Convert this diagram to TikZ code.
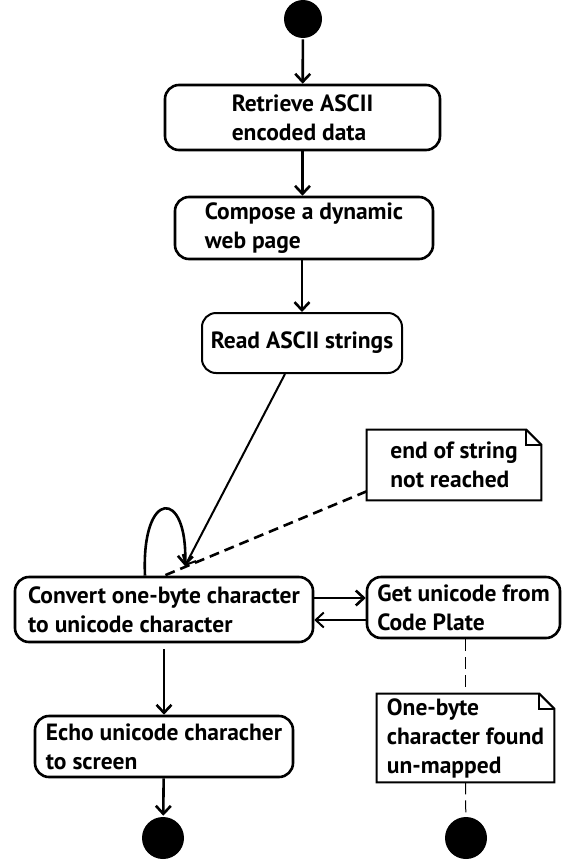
\documentclass[tikz,border=0pt]{standalone}
\usepackage{fontspec}
\setmainfont{PT Sans}
\usetikzlibrary{arrows.meta}
\begin{document}
\begin{tikzpicture}[x=1pt,y=-1pt,line width=2.6pt,
    font=\fontsize{23.5}{29}\selectfont\bfseries,
    >={Straight Barb[length=8pt,width=15pt]},
    action/.style={draw,rounded corners=14pt,align=left,inner sep=0pt},
    note/.style={align=left,inner sep=0pt},
    dot/.style={circle,fill,inner sep=0pt}]
    \useasboundingbox (0,0) rectangle (562,862);
    % states
    \node[dot,minimum size=38pt] (start) at (303,19) {};
    \node[action,minimum width=275pt,minimum height=65pt] (retrieve) at (302.5,117.5) {Retrieve ASCII\\encoded data};
    \node[action,minimum width=258pt,minimum height=62pt] (compose) at (304,228) {Compose a dynamic\\web page};
    \node[action,line width=2pt,minimum width=200pt,minimum height=60pt] (read) at (302,343) {Read ASCII strings};
    \node[action,minimum width=298pt,minimum height=65pt] (convert) at (164,609.5) {Convert one-byte character\\to unicode character};
    \node[action,minimum width=193pt,minimum height=61pt] (getcode) at (463.5,607.5) {Get unicode from\\Code Plate};
    \node[action,minimum width=258pt,minimum height=61pt] (echo) at (164,746.5) {Echo unicode characher\\to screen};
    \node[dot,minimum size=42pt] (endA) at (163,838) {};
    \node[dot,minimum size=42pt] (endB) at (466,838) {};
    % notes
    \node[note,minimum width=172pt,minimum height=68pt] (note1) at (454,465) {end of string\\not reached};
    \node[note,minimum width=175pt,minimum height=86pt] (note2) at (465.5,738) {One-byte\\character found\\un-mapped};
    \foreach \n in {note1,note2}
    {
        \draw[line width=2pt] (\n.south west) -- (\n.north west) -- ([xshift=-15pt]\n.north east) -- ([yshift=-15pt]\n.north east) -- (\n.south east) -- cycle;
        \draw[line width=2pt] ([xshift=-15pt]\n.north east) -- ([xshift=-15pt,yshift=-15pt]\n.north east) -- ([yshift=-15pt]\n.north east);
    }
    % transitions
    \coordinate (hit) at (185,566);
    \draw[->] (start) -- (retrieve);
    \draw[->] (retrieve.south) -- (retrieve.south |- compose.north);
    \draw[->] (compose.south -| read.north) -- (read.north);
    \draw[->,line width=2pt] ([xshift=-17pt]read.south) -- (hit);
    \draw[->] ([xshift=-19pt]convert.north) .. controls (141,488) and (188,488) .. (hit);
    \draw[dashed,dash pattern=on 10pt off 6pt] ([yshift=9pt]note1.south west) -- (convert.north);
    \draw[->] ([yshift=11.5pt]convert.east) -- ([yshift=9.5pt]getcode.west);
    \draw[->,line width=2pt] ([yshift=-12.5pt]getcode.west) -- ([yshift=-10.5pt]convert.east);
    \draw[->] ([yshift=-6pt]convert.south) -- (echo);
    \draw[->] (echo) -- (endA);
    \draw[line width=1pt,dash pattern=on 12pt off 6pt] (note2.north |- getcode.south) -- (note2.north);
    \draw[line width=1pt,dash pattern=on 12pt off 6pt] (note2.south) -- (endB);
\end{tikzpicture}
\end{document}
